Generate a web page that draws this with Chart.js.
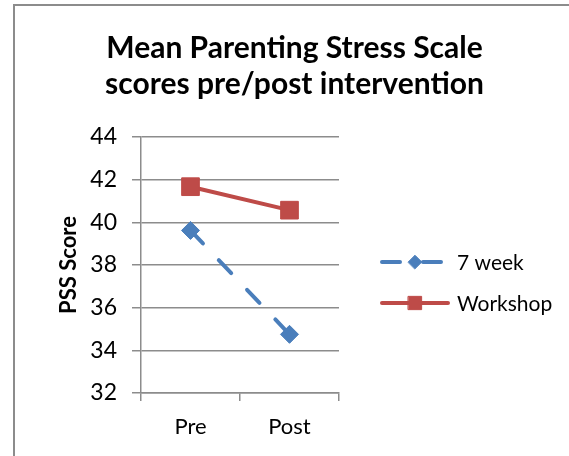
<!DOCTYPE html>
<html>
<head>
<meta charset="utf-8">
<script src="https://cdn.jsdelivr.net/npm/chart.js@4/dist/chart.umd.min.js"></script>
<style>
  body { margin: 0; background: #fff; }
  #wrap { position: relative; width: 569px; height: 456px; overflow: hidden; }
  #frame { position: absolute; left: 13px; top: 4px; width: 600px; height: 500px; border: 2px solid #8c8c8c; }
  #GraficaPSS { position: absolute; left: 0; top: 0; }
</style>
</head>
<body>
<div id="wrap">
  <div id="frame"></div>
  <canvas id="GraficaPSS" width="569" height="456"></canvas>
</div>
<script>
const categorias = ['Pre', 'Post'];
const sieteSemanas = [39.62, 34.75];
const taller = [41.67, 40.57];
const nombresSeries = ['7 week', 'Workshop'];
const ejeY = { min: 32, max: 44, paso: 2 };

const gris = '#8c8c8c';
const fuente = 'Lato, "Open Sans", sans-serif';

// leyenda a la derecha, dibujada a mano con linea + marcador como en Excel
const leyendaExcel = {
    id: 'leyendaExcel',
    afterDraw(chart) {
        const ctx = chart.ctx;
        const filas = [262, 303];
        chart.data.datasets.forEach(function(ds, i) {
            const y = filas[i];
            ctx.save();
            ctx.strokeStyle = ds.borderColor;
            ctx.lineWidth = ds.borderWidth;
            ctx.lineCap = 'round';
            ctx.setLineDash(ds.borderDash || []);
            ctx.beginPath();
            ctx.moveTo(382, y);
            ctx.lineTo(448, y);
            ctx.stroke();
            ctx.setLineDash([]);
            ctx.fillStyle = ds.pointBackgroundColor;
            ctx.strokeStyle = ds.pointBorderColor;
            ctx.lineWidth = 1;
            Chart.helpers.drawPoint(ctx, { pointStyle: ds.pointStyle, radius: ds.pointRadius * 0.75, borderWidth: 1 }, 415, y);
            ctx.fillStyle = '#000';
            ctx.font = '21px ' + fuente;
            ctx.textBaseline = 'middle';
            ctx.textAlign = 'left';
            ctx.fillText(ds.label, 457, y + 1);
            ctx.restore();
        });
    }
};

const ctx = document.getElementById('GraficaPSS').getContext('2d');
const miGrafica = new Chart(ctx, {
    type: 'line',
    data: {
        labels: categorias,
        datasets: [{
            label: nombresSeries[0],
            data: sieteSemanas,
            borderColor: '#4a7ebb',
            backgroundColor: '#4a7ebb',
            pointBackgroundColor: '#4a7ebb',
            pointBorderColor: '#4a7ebb',
            borderWidth: 4,
            borderDash: [18, 23],
            borderCapStyle: 'round',
            pointStyle: 'rectRot',
            pointRadius: 9,
            pointBorderWidth: 1,
            tension: 0
        }, {
            label: nombresSeries[1],
            data: taller,
            borderColor: '#be4b48',
            backgroundColor: '#be4b48',
            pointBackgroundColor: '#be4b48',
            pointBorderColor: '#be4b48',
            borderWidth: 4,
            borderCapStyle: 'round',
            pointStyle: 'rect',
            pointRadius: 12.5,
            pointBorderWidth: 1,
            tension: 0
        }]
    },
    options: {
        responsive: false,
        animation: false,
        layout: { padding: { left: 20, right: 0, top: 0, bottom: 0 } },
        plugins: {
            legend: { display: false },
            tooltip: { enabled: false },
            title: {
                display: true,
                text: ['Mean Parenting Stress Scale', 'scores pre/post intervention'],
                color: '#000',
                font: { family: fuente, size: 30, weight: 'bold', lineHeight: 1.2 },
                padding: { top: 30, bottom: 35 }
            }
        },
        scales: {
            x: {
                offset: true,
                grid: { offset: true, drawOnChartArea: false, color: gris, lineWidth: 1.5, tickLength: 8 },
                border: { color: gris, width: 1.5 },
                ticks: { color: '#000', font: { family: fuente, size: 22 }, padding: 13 },
                afterFit(scale) { scale.height = 63; }
            },
            y: {
                min: ejeY.min,
                max: ejeY.max,
                grid: { color: gris, lineWidth: 1.5, tickLength: 9 },
                border: { color: gris, width: 1.5 },
                ticks: { stepSize: ejeY.paso, color: '#000', font: { family: fuente, size: 23 }, padding: 15 },
                title: {
                    display: true,
                    text: 'PSS Score',
                    color: '#000',
                    font: { family: fuente, size: 22, weight: 'bold' },
                    padding: { top: 36, bottom: 4 }
                },
                afterFit(scale) { scale.width = 121; }
            },
            espacio: {
                type: 'linear',
                position: 'right',
                display: true,
                grid: { display: false },
                border: { display: false },
                ticks: { display: false },
                afterFit(scale) { scale.width = 230; }
            }
        }
    },
    plugins: [leyendaExcel]
});
</script>
</body>
</html>
